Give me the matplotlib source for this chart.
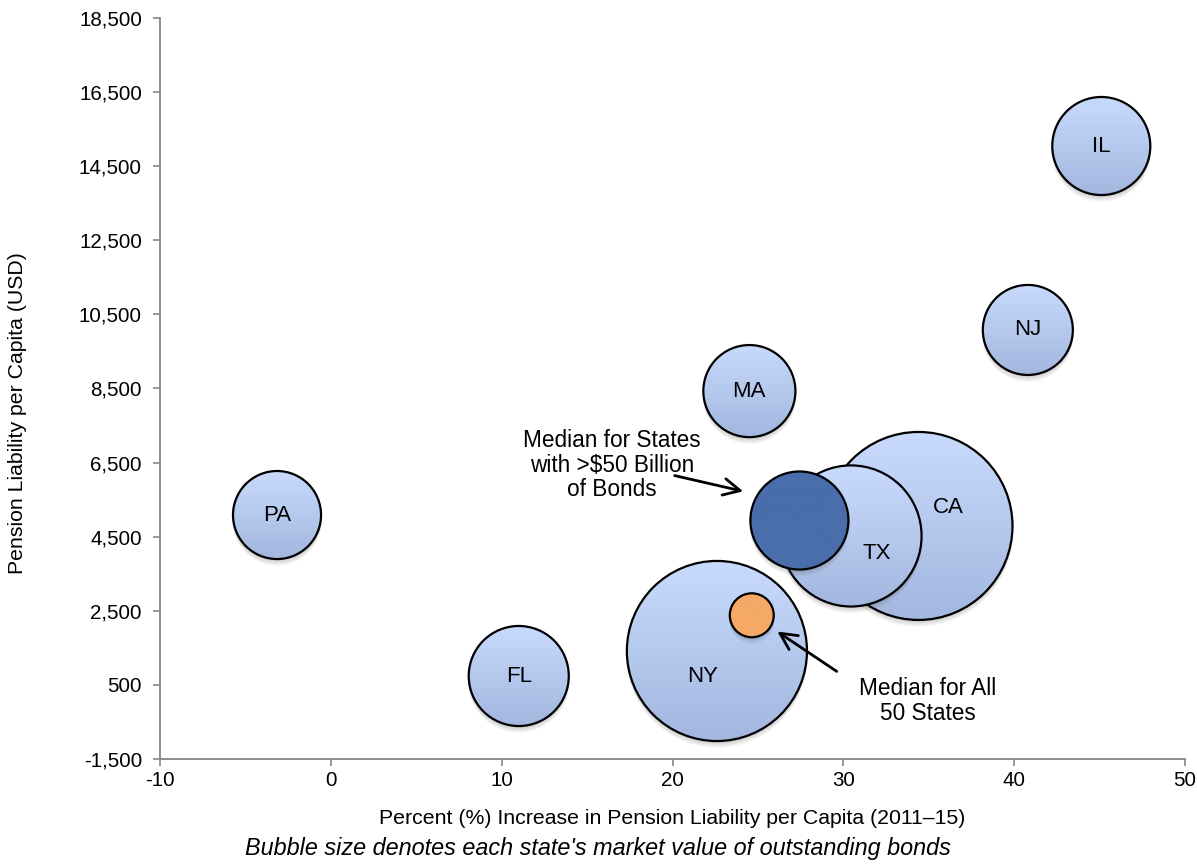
import numpy as np
import matplotlib
matplotlib.use("Agg")
import matplotlib.pyplot as plt
from matplotlib.patches import Ellipse
from matplotlib.colors import to_rgb

plt.rcParams['font.family'] = ['Liberation Sans', 'DejaVu Sans']
plt.rcParams['axes.unicode_minus'] = False

# State bubbles: % increase 2011-15, pension liability per capita, bonds ($bn)
states = ["CA", "TX", "NY", "IL", "NJ", "MA", "PA", "FL"]
pct_increase = [34.4, 30.45, 22.6, 45.1, 40.8, 24.5, -3.15, 11.0]
liability = [4790, 4520, 1415, 15045, 10080, 8430, 5085, 740]
bonds = [150.0, 84.5, 137.7, 40.8, 34.4, 36.0, 32.9, 42.5]

# Medians
median_big = (27.43, 4937, 40.8)    # states with >$50bn of bonds
median_all = (24.64, 2379, 8.2)     # all 50 states

xticks = [-10, 0, 10, 20, 30, 40, 50]
yticks = [-1500, 500, 2500, 4500, 6500, 8500, 10500, 12500, 14500, 16500, 18500]

RADIUS_SCALE = 7.675  # px of radius per sqrt($bn)

fig = plt.figure(figsize=(11.97, 8.64), dpi=100)
W, H = 1197, 864
ax = fig.add_axes([160 / W, (H - 759) / H, (1185 - 160) / W, (759 - 18) / H])
ax.set_xlim(-10, 50)
ax.set_ylim(-1500, 18500)
ax.set_autoscale_on(False)

px_x = ax.bbox.width / 60.0
px_y = ax.bbox.height / 20000.0


def bubble(x, y, size, top, bottom=None, z=2):
    r = RADIUS_SCALE * np.sqrt(size)
    dx, dy = r / px_x, r / px_y
    # soft drop shadow
    for k in range(1, 5):
        sh = Ellipse((x, y - (1.5 * k) / px_y), 2 * (r + 0.5) / px_x, 2 * (r + 0.5) / px_y,
                     facecolor="#555555", edgecolor="none", alpha=0.07, zorder=z - 0.2)
        ax.add_patch(sh)
    circ = Ellipse((x, y), 2 * dx, 2 * dy, facecolor="none", edgecolor="black",
                   linewidth=1.6, zorder=z + 0.1, transform=ax.transData)
    ax.add_patch(circ)
    if bottom is None:
        bottom = top
    c0, c1 = np.array(to_rgb(top)), np.array(to_rgb(bottom))
    t = np.linspace(0, 1, 128)[:, None]
    grad = (c0 * (1 - t) + c1 * t)[:, None, :]
    im = ax.imshow(grad, extent=[x - dx, x + dx, y - dy, y + dy], origin="upper",
                   aspect="auto", interpolation="bilinear", zorder=z)
    im.set_clip_path(circ)


light_top, light_bot = "#c8dbfd", "#a3b7df"
order = {"CA": 2, "NY": 2, "TX": 3, "IL": 2, "NJ": 2, "MA": 2, "PA": 2, "FL": 2}
label_pos = {"CA": (36.13, 5300), "TX": (31.97, 4060), "NY": (21.79, 740)}

for st, x, y, b in zip(states, pct_increase, liability, bonds):
    z = order[st]
    bubble(x, y, b, light_top, light_bot, z=z)
    lx, ly = label_pos.get(st, (x, y))
    ax.text(lx, ly, st, ha="center", va="center", fontsize=16, zorder=z + 0.2)

bubble(*median_big, "#4a6dac", z=5)
bubble(*median_all, "#f5a966", z=5)

ax.annotate("", xy=(24.3, 5707), xytext=(19.97, 6166),
            arrowprops=dict(arrowstyle="->", lw=2, mutation_scale=30, color="black"), zorder=6)
ax.text(16.46, 6435, "Median for States\nwith >$50 Billion\nof Bonds", ha="center", va="center",
        fontsize=16.3, linespacing=1.1, zorder=6)

ax.annotate("", xy=(26.0, 1982), xytext=(29.75, 822),
            arrowprops=dict(arrowstyle="->", lw=2, mutation_scale=30, color="black"), zorder=6)
ax.text(34.96, 66, "Median for All\n50 States", ha="center", va="center",
        fontsize=16.3, linespacing=1.1, zorder=6)

# axes styling
for s in ["top", "right"]:
    ax.spines[s].set_visible(False)
for s in ["left", "bottom"]:
    ax.spines[s].set_color("#868686")
    ax.spines[s].set_linewidth(1.3)
ax.set_xticks(xticks)
ax.set_yticks(yticks)
ax.set_yticklabels([f"{v:,}" for v in yticks])
ax.tick_params(axis="both", direction="out", length=5, width=1.2, color="#868686",
               labelsize=14.8, labelcolor="black")
ax.tick_params(axis="y", pad=8)
ax.set_xlabel("Percent (%) Increase in Pension Liability per Capita (2011\u201315)", fontsize=15.3)
ax.xaxis.label.set_va("center")
ax.xaxis.set_label_coords(0.5, -(818 - 759) / 741)
ax.set_ylabel("Pension Liability per Capita (USD)", fontsize=15.3)
ax.yaxis.label.set_va("center")
ax.yaxis.set_label_coords(-(160 - 18) / 1025, 0.5 - ((413 - 18) / 741 - 0.5))
fig.text(598 / W, 1 - 849 / H,
         "Bubble size denotes each state's market value of outstanding bonds",
         ha="center", va="center", fontsize=16.8, style="italic")

fig.savefig("out.png", dpi=100)
